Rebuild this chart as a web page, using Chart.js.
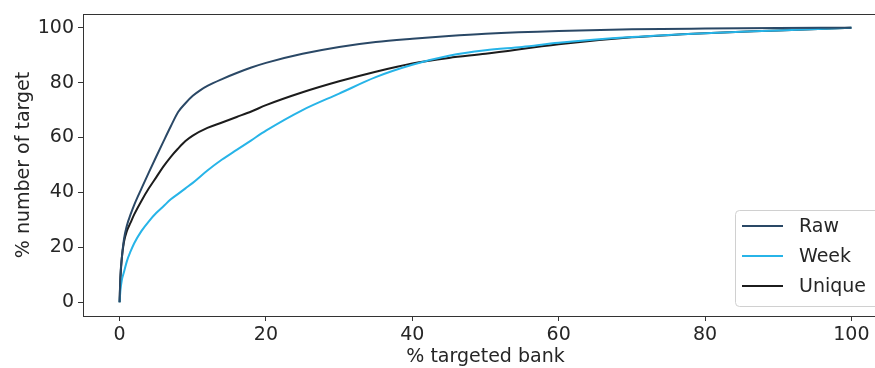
<!DOCTYPE html>
<html>
<head>
<meta charset="utf-8">
<script src="https://cdn.jsdelivr.net/npm/chart.js@4/dist/chart.umd.min.js"></script>
<style>
    html, body { margin: 0; padding: 0; background: #fff; overflow: hidden; }
    #wrap { width: 875px; height: 368px; overflow: hidden; }
    canvas { display: block; }
</style>
</head>
<body>
<div id="wrap"><canvas id="chartCdf" width="893" height="368"></canvas></div>
<script>
// Cumulative share of targets vs share of targeted banks, three counting modes.
// The axes run to 105 on the right, past the picture edge, like the cropped original.

const SERIES_LABELS = ['Raw', 'Week', 'Unique'];
const SERIES_COLORS = ['#2a4866', '#27b4e8', '#1c1c1c'];

const X_TICKS = [0, 20, 40, 60, 80, 100];
const Y_TICKS = [0, 20, 40, 60, 80, 100];

const xRaw = [0, 0.1, 0.3, 0.6, 1, 1.5, 2, 3, 4, 5, 6, 7, 8, 9, 10, 11, 12, 14, 16, 18, 20, 25, 30, 35, 40, 45, 50, 60, 70, 80, 90, 100];
const yRaw = [0, 9, 16, 23, 28, 32, 35.5, 41.5, 47.3, 53, 58.6, 64.1, 69.3, 72.5, 75.2, 77.2, 78.8, 81.3, 83.5, 85.5, 87.2, 90.5, 93, 94.8, 96, 97, 97.8, 98.8, 99.4, 99.7, 99.9, 100];

const xWeek = [0, 0.1, 0.3, 0.6, 1, 1.5, 2, 3, 4, 5, 6, 7, 8, 9, 10, 12, 14, 16, 18, 20, 25, 30, 35, 40, 45, 50, 55, 60, 70, 80, 90, 100];
const yWeek = [0, 4, 8, 11, 15, 18.5, 21.5, 26, 29.5, 32.5, 35, 37.5, 39.5, 41.5, 43.5, 48, 52, 55.5, 59, 62.5, 70, 76, 82, 86.5, 89.8, 91.8, 93, 94.5, 96.6, 98, 99, 100];

const xUnique = [0, 0.1, 0.3, 0.6, 1, 1.5, 2, 3, 4, 5, 6, 7, 8, 9, 10, 12, 14, 16, 18, 20, 25, 30, 35, 40, 45, 50, 60, 70, 80, 90, 100];
const yUnique = [0, 8, 16, 22, 26, 29, 32, 37, 41.5, 45.5, 49.5, 53, 56, 58.7, 60.7, 63.5, 65.5, 67.5, 69.5, 71.8, 76.5, 80.5, 84, 87, 89, 90.5, 94, 96.5, 98, 99, 100];

const FONT = 'DejaVu Sans';
const TEXT = '#262626';

function toPoints(xs, ys) {
    return xs.map((x, i) => ({ x, y: ys[i] }));
}

// matplotlib-style box around the axes
const framePlugin = {
    id: 'frame',
    afterDatasetsDraw(chart) {
        const a = chart.chartArea;
        const ctx = chart.ctx;
        ctx.save();
        ctx.strokeStyle = '#333';
        ctx.lineWidth = 1;
        ctx.strokeRect(Math.round(a.left) + 0.5, Math.round(a.top) + 0.5,
            Math.round(a.right - a.left), Math.round(a.bottom - a.top));
        ctx.restore();
    }
};

// legend box in the lower right corner of the axes
const boxLegend = {
    id: 'boxLegend',
    afterDraw(chart) {
        const ctx = chart.ctx;
        const bx = 735, by = 210, bw = 144, bh = 96;
        ctx.save();
        ctx.beginPath();
        ctx.roundRect(bx + 0.5, by + 0.5, bw, bh, 4);
        ctx.fillStyle = 'rgba(255,255,255,0.8)';
        ctx.fill();
        ctx.strokeStyle = '#d0d0d0';
        ctx.lineWidth = 1;
        ctx.stroke();
        ctx.font = `19px "${FONT}"`;
        ctx.textBaseline = 'middle';
        chart.data.datasets.forEach((ds, i) => {
            const cy = 226 + i * 30;
            ctx.strokeStyle = ds.borderColor;
            ctx.lineWidth = 2;
            ctx.beginPath();
            ctx.moveTo(742, cy);
            ctx.lineTo(783, cy);
            ctx.stroke();
            ctx.fillStyle = TEXT;
            ctx.fillText(ds.label, 799, cy + 1);
        });
        ctx.restore();
    }
};

const seriesX = [xRaw, xWeek, xUnique];
const seriesY = [yRaw, yWeek, yUnique];

new Chart(document.getElementById('chartCdf'), {
    type: 'line',
    data: {
        datasets: SERIES_LABELS.map((label, i) => ({
            label,
            data: toPoints(seriesX[i], seriesY[i]),
            borderColor: SERIES_COLORS[i],
            backgroundColor: SERIES_COLORS[i],
            borderWidth: 2,
            pointRadius: 0,
            cubicInterpolationMode: 'monotone',
            fill: false
        }))
    },
    options: {
        responsive: false,
        animation: false,
        devicePixelRatio: 1,
        layout: { padding: { top: 14, right: 5, left: 0, bottom: 0 } },
        plugins: {
            legend: { display: false },
            tooltip: { enabled: false }
        },
        scales: {
            x: {
                type: 'linear',
                min: -5,
                max: 105,
                afterBuildTicks: s => { s.ticks = X_TICKS.map(v => ({ value: v })); },
                afterFit: s => { s.height = 52; s.paddingLeft = 0; s.paddingRight = 0; },
                border: { display: false },
                grid: { drawOnChartArea: false, tickLength: 5, tickColor: '#333', tickWidth: 1 },
                ticks: { color: TEXT, font: { family: FONT, size: 19 }, padding: 3, maxRotation: 0 },
                title: {
                    display: true,
                    text: '% targeted bank',
                    color: TEXT,
                    font: { family: FONT, size: 19 },
                    padding: { top: 0, bottom: 0 }
                }
            },
            y: {
                type: 'linear',
                min: -5,
                max: 105,
                afterBuildTicks: s => { s.ticks = Y_TICKS.map(v => ({ value: v })); },
                afterFit: s => { s.width = 83; s.paddingTop = 0; s.paddingBottom = 0; },
                border: { display: false },
                grid: { drawOnChartArea: false, tickLength: 5, tickColor: '#333', tickWidth: 1 },
                ticks: { color: TEXT, font: { family: FONT, size: 19 }, padding: 4 },
                title: {
                    display: true,
                    text: '% number of target',
                    color: TEXT,
                    font: { family: FONT, size: 19 },
                    padding: { top: 13, bottom: 0 }
                }
            }
        }
    },
    plugins: [framePlugin, boxLegend]
});
</script>
</body>
</html>
